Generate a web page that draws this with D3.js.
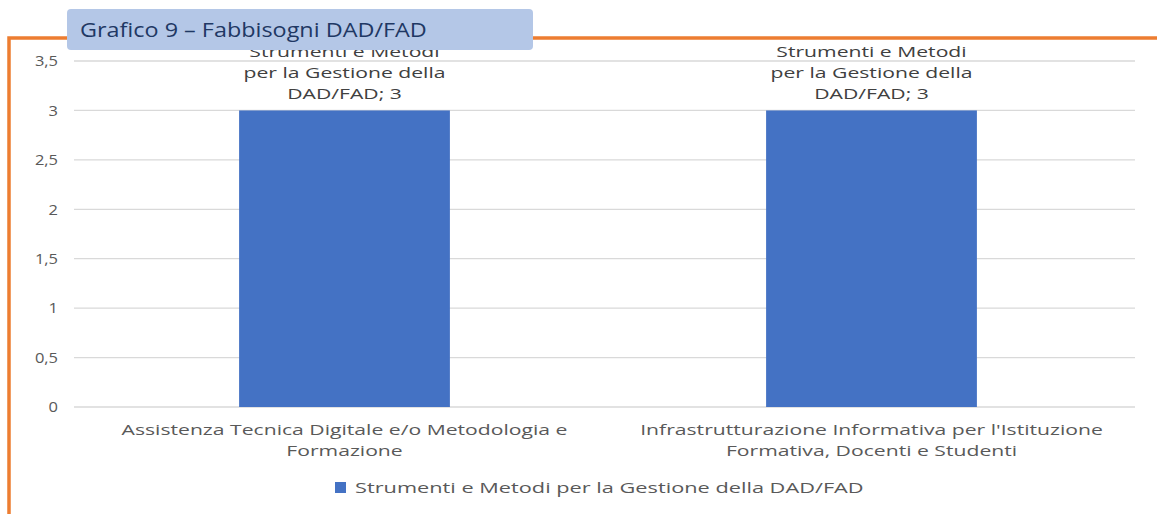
<!DOCTYPE html>
<html>
<head>
<meta charset="utf-8">
<script src="https://cdn.jsdelivr.net/npm/d3@7"></script>
<style>
  body { margin: 0; background: #fff; }
  svg { display: block; font-family: "Open Sans", "Noto Sans", sans-serif; }
</style>
</head>
<body>
<div id="chart"></div>
<script>
const categories = [
    ["Assistenza Tecnica Digitale e/o Metodologia e", "Formazione"],
    ["Infrastrutturazione Informativa per l'Istituzione", "Formativa, Docenti e Studenti"]
];
const values = [3, 3];
const seriesName = "Strumenti e Metodi per la Gestione della DAD/FAD";
const labelLines = ["Strumenti e Metodi", "per la Gestione della", "DAD/FAD; 3"];
const yTicks = [0, 0.5, 1, 1.5, 2, 2.5, 3, 3.5];
const yTickLabels = ["0", "0,5", "1", "1,5", "2", "2,5", "3", "3,5"];

const width = 1157, height = 514;
const stretch = 1.41; // the original text is drawn wide

const svg = d3.select("#chart").append("svg")
    .attr("width", width)
    .attr("height", height);

const x = d3.scaleBand()
    .domain(d3.range(values.length))
    .range([81, 1135])
    .paddingInner(0.6)
    .paddingOuter(0.3);

const y = d3.scaleLinear()
    .domain([0, 3.5])
    .range([407, 61]);

// gridlines
svg.selectAll(".grid")
    .data(yTicks)
    .enter().append("line")
    .attr("x1", 74)
    .attr("x2", 1135)
    .attr("y1", d => y(d))
    .attr("y2", d => y(d))
    .attr("stroke", "#d9d9d9")
    .attr("stroke-width", 1.3);

// y tick labels
svg.selectAll(".ytick")
    .data(yTicks)
    .enter().append("text")
    .attr("transform", d => "translate(58," + y(d) + ") scale(1.1,1)")
    .attr("dy", "0.35em")
    .attr("text-anchor", "end")
    .style("font-size", "15px")
    .style("fill", "#595959")
    .text((d, i) => yTickLabels[i]);

// bars
svg.selectAll(".bar")
    .data(values)
    .enter().append("rect")
    .attr("x", (d, i) => x(i))
    .attr("width", x.bandwidth())
    .attr("y", d => y(d))
    .attr("height", d => y(0) - y(d))
    .attr("fill", "#4472c4");

// data labels
svg.selectAll(".dlabel")
    .data(values)
    .enter().append("g")
    .attr("transform", (d, i) => "translate(" + (x(i) + x.bandwidth() / 2) + "," + (y(d) - 53) + ") scale(" + stretch + ",1)")
    .selectAll("text")
    .data(labelLines)
    .enter().append("text")
    .attr("y", (d, j) => j * 21)
    .attr("text-anchor", "middle")
    .style("font-size", "15px")
    .style("fill", "#404040")
    .text(d => d);

// category labels
svg.selectAll(".clabel")
    .data(categories)
    .enter().append("g")
    .attr("transform", (d, i) => "translate(" + (x(i) + x.bandwidth() / 2) + ",435) scale(" + stretch + ",1)")
    .selectAll("text")
    .data(d => d)
    .enter().append("text")
    .attr("y", (d, j) => j * 21)
    .attr("text-anchor", "middle")
    .style("font-size", "15px")
    .style("fill", "#595959")
    .text(d => d);

// legend
svg.append("rect")
    .attr("x", 335)
    .attr("y", 482)
    .attr("width", 11)
    .attr("height", 11)
    .attr("fill", "#4472c4");
svg.append("text")
    .attr("transform", "translate(355,493) scale(1.45,1)")
    .style("font-size", "15px")
    .style("fill", "#595959")
    .text(seriesName);

// orange frame
svg.append("path")
    .attr("d", "M9,514 V38 H1157")
    .attr("fill", "none")
    .attr("stroke", "#ed7d31")
    .attr("stroke-width", 3.5);

// title box
svg.append("rect")
    .attr("x", 67)
    .attr("y", 9)
    .attr("width", 466)
    .attr("height", 41)
    .attr("rx", 4)
    .attr("fill", "#b4c7e7");
svg.append("text")
    .attr("transform", "translate(80,37) scale(1.17,1)")
    .style("font-size", "20px")
    .style("fill", "#1f3864")
    .text("Grafico 9 – Fabbisogni DAD/FAD");
</script>
</body>
</html>
